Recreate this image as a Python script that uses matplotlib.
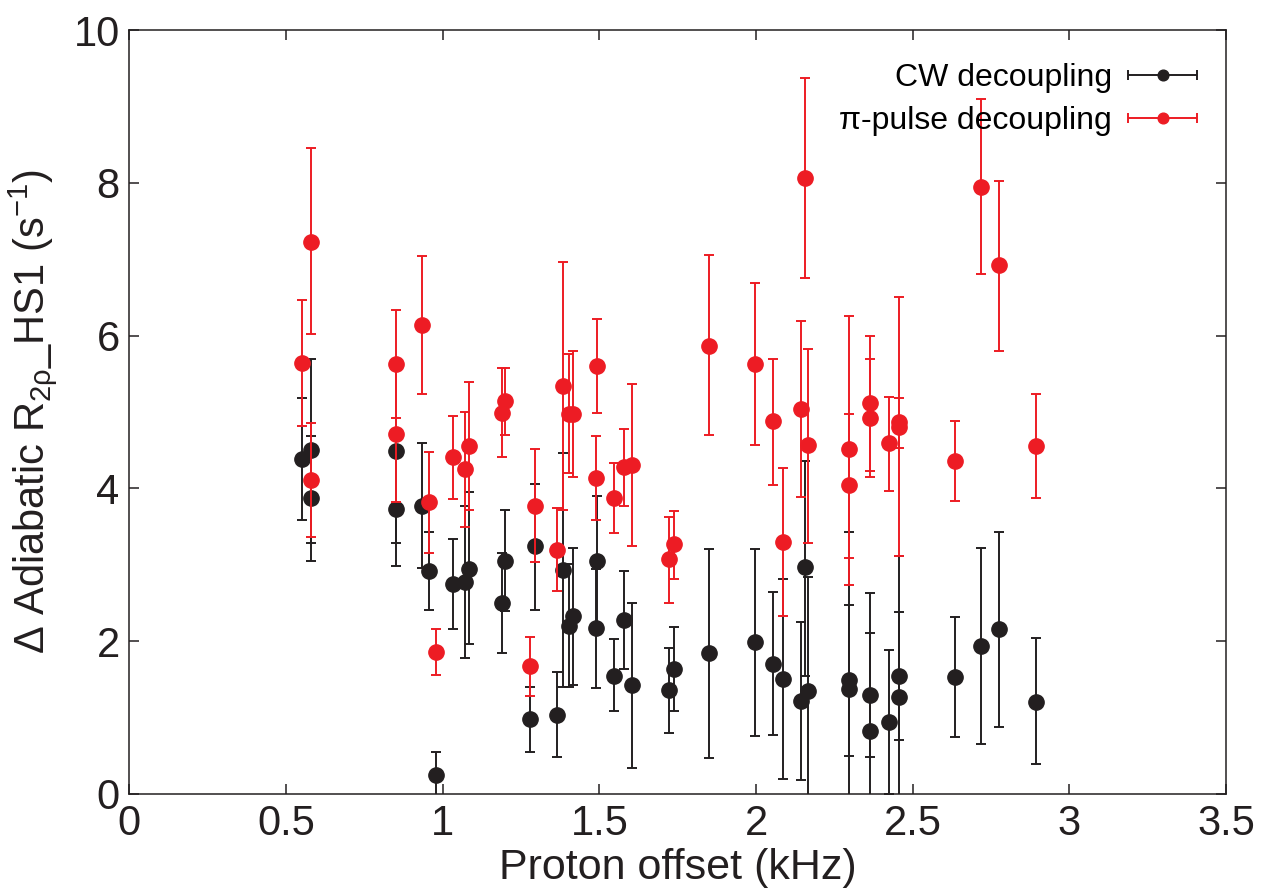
import matplotlib
matplotlib.use("Agg")
import matplotlib.pyplot as plt
import numpy as np
from matplotlib.lines import Line2D
from matplotlib.collections import LineCollection
from matplotlib.container import ErrorbarContainer
from matplotlib.legend_handler import HandlerErrorbar

plt.rcParams['font.family'] = ['Liberation Sans', 'DejaVu Sans']

# ---- data ----
offset_khz = [0.55, 0.58, 0.58, 0.85, 0.85, 0.933, 0.955, 0.98, 1.032, 1.071,
              1.083, 1.19, 1.20, 1.28, 1.294, 1.366, 1.383, 1.404, 1.415, 1.488,
              1.494, 1.546, 1.578, 1.604, 1.721, 1.737, 1.85, 1.997, 2.054, 2.085,
              2.142, 2.155, 2.165, 2.296, 2.296, 2.365, 2.365, 2.424, 2.455, 2.455,
              2.636, 2.717, 2.774, 2.893]

cw_value = [4.38, 4.50, 3.87, 4.49, 3.73, 3.77, 2.92, 0.25, 2.75, 2.78,
            2.95, 2.50, 3.05, 0.98, 3.24, 1.04, 2.93, 2.20, 2.33, 2.17,
            3.05, 1.55, 2.28, 1.43, 1.36, 1.64, 1.84, 1.99, 1.70, 1.51,
            1.22, 2.97, 1.35, 1.49, 1.38, 1.30, 0.83, 0.94, 1.54, 1.27,
            1.53, 1.94, 2.16, 1.21]
cw_upper = [5.18, 5.70, 4.69, 5.68, 4.48, 4.59, 3.43, 0.55, 3.34, 3.77,
            3.95, 3.16, 3.72, 1.40, 4.06, 1.59, 4.46, 3.01, 3.22, 2.95,
            3.90, 2.03, 2.92, 2.50, 1.91, 2.18, 3.21, 3.21, 2.65, 2.82,
            2.25, 4.36, 2.84, 2.48, 3.43, 2.11, 2.63, 1.88, 2.38, 3.12,
            2.32, 3.22, 3.43, 2.04]
cw_lower = [3.59, 3.29, 3.05, 3.28, 2.98, 2.96, 2.41, -0.05, 2.16, 1.78,
            1.96, 1.84, 2.39, 0.55, 2.41, 0.48, 1.40, 1.40, 1.43, 1.39,
            2.20, 1.08, 1.63, 0.34, 0.80, 1.09, 0.47, 0.76, 0.77, 0.20,
            0.18, 1.55, -0.14, 0.50, -0.67, 0.49, -0.97, 0.00, 0.70, -0.58,
            0.75, 0.66, 0.88, 0.39]

pi_value = [5.64, 7.23, 4.11, 5.63, 4.71, 6.14, 3.82, 1.86, 4.41, 4.25,
            4.55, 4.99, 5.14, 1.67, 3.77, 3.19, 5.34, 4.98, 4.98, 4.13,
            5.60, 3.87, 4.28, 4.31, 3.08, 3.27, 5.87, 5.63, 4.88, 3.30,
            5.04, 8.06, 4.57, 4.51, 4.04, 5.12, 4.92, 4.59, 4.87, 4.81,
            4.36, 7.95, 6.92, 4.56]
pi_upper = [6.47, 8.45, 4.85, 6.34, 5.60, 7.04, 4.48, 2.16, 4.95, 5.00,
            5.39, 5.57, 5.58, 2.05, 4.52, 3.74, 6.97, 5.76, 5.80, 4.68,
            6.22, 4.33, 4.78, 5.37, 3.63, 3.71, 7.05, 6.69, 5.70, 4.27,
            6.19, 9.37, 5.83, 6.26, 4.97, 6.00, 5.69, 5.20, 5.18, 6.50,
            4.88, 9.10, 8.03, 5.23]
pi_lower = [4.82, 6.02, 3.37, 4.92, 3.82, 5.24, 3.15, 1.56, 3.86, 3.49,
            3.72, 4.41, 4.70, 1.28, 3.03, 2.66, 3.72, 4.20, 4.15, 3.58,
            4.99, 3.42, 3.77, 3.24, 2.50, 2.82, 4.70, 4.57, 4.05, 2.33,
            3.89, 6.75, 3.29, 2.74, 3.09, 4.23, 4.15, 3.97, 4.53, 3.12,
            3.83, 6.80, 5.80, 3.88]

series_labels = ['CW decoupling', 'π-pulse decoupling']
x_ticks = [0, 0.5, 1, 1.5, 2, 2.5, 3, 3.5]
x_tick_labels = ['0', '0.5', '1', '1.5', '2', '2.5', '3', '3.5']
y_ticks = [0, 2, 4, 6, 8, 10]

BLACK = '#231F20'
RED = '#ED1C24'

fig = plt.figure(figsize=(12.62, 8.94), dpi=100)
ax = fig.add_axes([0.1025, 0.1119, 0.869, 0.8545])

x = np.array(offset_khz)
series = [
    (np.array(cw_value), np.array(cw_upper), np.array(cw_lower), BLACK, 3),
    (np.array(pi_value), np.array(pi_upper), np.array(pi_lower), RED, 4),
]
handles = []
for (v, up, lo, col, z), lab in zip(series, series_labels):
    yerr = np.vstack([v - lo, up - v])
    ax.errorbar(x, v, yerr=yerr, fmt='o', color=col, ecolor=col, ms=11,
                elinewidth=1.4, capsize=3.9, capthick=1.4, zorder=z)
    # legend proxy with horizontal error bar
    pl = Line2D([], [], marker='o', ls='none', color=col, ms=11)
    cl = Line2D([], [], marker='|', ls='none', color=col, ms=7.8, mew=1.4)
    bc = LineCollection([], colors=col, linewidths=1.4)
    cont = ErrorbarContainer((pl, (cl,), (bc,)), has_xerr=True, has_yerr=False, label=lab)
    handles.append(cont)

ax.set_xlim(0, 3.5)
ax.set_ylim(0, 10)
ax.set_xticks(x_ticks)
ax.set_xticklabels(x_tick_labels)
ax.set_yticks(y_ticks)
ax.tick_params(direction='in', length=7, width=1.1, labelsize=30, pad=7,
               top=True, right=True, colors='#231F20')
for s in ax.spines.values():
    s.set_linewidth(1.1)
    s.set_color('#231F20')

ax.set_xlabel('Proton offset (kHz)', fontsize=31, labelpad=3, color='#231F20')
ax.set_ylabel(r'Δ Adiabatic R$_{\mathregular{2ρ}}$_HS1 (s$^{\mathregular{-1}}$)',
              fontsize=30, labelpad=10, color='#231F20')

leg = ax.legend(handles=handles, labels=series_labels, loc='upper right',
                bbox_to_anchor=(0.9745, 0.957), borderaxespad=0, borderpad=0,
                frameon=False, fontsize=23, markerfirst=False, markerscale=0.7,
                handlelength=2.2, handletextpad=0.5, labelspacing=0.41,
                handler_map={ErrorbarContainer: HandlerErrorbar(xerr_size=1.08)})

fig.savefig('out.png', dpi=100)
